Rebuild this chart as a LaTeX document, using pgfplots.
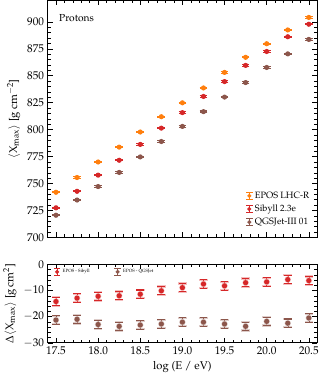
\documentclass[border=0pt]{standalone}
\usepackage[T1]{fontenc}
\usepackage{mathpazo}
\usepackage{pgfplots}
\usepackage{pgfplotstable}
\pgfplotsset{compat=1.18}
\definecolor{eposc}{HTML}{FF7F0E}
\definecolor{sibc}{HTML}{D62728}
\definecolor{qgsc}{HTML}{8C564B}

\pgfplotstableread{
x      epos   sib    qgs   err
17.50  741.9  727.5  720.6 0.6
17.75  755.6  742.8  734.7 0.6
18.00  770.0  757.8  747.2 0.6
18.25  783.8  771.6  760.3 0.6
18.50  797.8  786.3  774.7 0.6
18.75  812.0  801.4  789.0 0.6
19.00  824.9  815.8  803.0 0.6
19.25  838.7  830.8  816.7 0.6
19.50  853.1  844.6  830.2 0.6
19.75  867.1  859.6  843.7 0.6
20.00  879.7  872.5  857.7 0.6
20.25  892.5  886.2  870.3 0.6
20.50  904.1  897.8  883.7 0.6
}\topdata

\pgfplotstableread{
x      dsib   esib  dqgs   eqgs
17.50  -14.2  1.6   -21.3  1.6
17.75  -12.9  1.6   -21.0  1.6
18.00  -12.2  1.6   -23.0  1.6
18.25  -12.0  1.6   -23.7  1.6
18.50  -11.4  1.6   -23.2  1.6
18.75  -10.1  1.6   -22.8  1.6
19.00   -8.9  1.6   -22.1  1.6
19.25   -7.5  1.6   -22.1  1.6
19.50   -8.2  1.6   -22.8  1.6
19.75   -7.0  1.6   -23.7  1.6
20.00   -6.7  1.6   -21.8  1.6
20.25   -5.8  1.6   -22.5  1.6
20.50   -6.2  1.6   -20.5  1.6
}\diffdata

\pgfplotsset{
  errlegend/.style={legend image code/.code={
    \draw[line width=0.8pt] (0.3cm,-0.13cm) -- (0.3cm,0.13cm);
    \draw[line width=0.8pt] (0.19cm,-0.13cm) -- (0.41cm,-0.13cm);
    \draw[line width=0.8pt] (0.19cm,0.13cm) -- (0.41cm,0.13cm);
    \fill (0.3cm,0) circle (1.8pt);}},
  myaxis/.style={
    scale only axis, width=265pt,
    xmin=17.4, xmax=20.6,
    xtick={17.5,18.0,...,20.5},
    minor x tick num=4,
    tick align=inside,
    major tick length=5pt, minor tick length=3pt,
    xtick pos=both, ytick pos=both,
    every tick/.style={black, line width=0.5pt},
    axis line style={line width=0.6pt},
    tick label style={font=\fontsize{11}{13}\selectfont},
    label style={font=\fontsize{11}{13}\selectfont},
  },
  datplot/.style={only marks, mark=*, mark size=2pt, line width=1pt,
    error bars/y dir=both, error bars/y explicit,
    error bars/error mark options={rotate=90, mark size=3.8pt, line width=1pt}},
  lightplot/.style={only marks, mark=none, line width=2.2pt,
    error bars/y dir=both, error bars/y explicit,
    error bars/error bar style={line width=2.2pt, color=#1},
    error bars/error mark options={rotate=90, mark size=4.2pt, line width=2.2pt, color=#1}},
}

\begin{document}
\begin{tikzpicture}
\begin{axis}[myaxis, name=top,
  height=233pt,
  ymin=700, ymax=920,
  ytick={700,725,...,900},
  minor y tick num=4,
  xticklabels={},
  ylabel={$\langle \mathrm{X_{max}}\rangle$ [g\,cm$^{-2}$]},
  legend style={draw=none, fill=none, at={(0.99,0.03)}, anchor=south east, font=\small,
    row sep=1pt, cells={anchor=west}},
  legend cell align=left,
]
\addplot[datplot, color=eposc, forget plot] table[x=x, y=epos, y error=err]{\topdata};
\addplot[datplot, color=sibc, forget plot] table[x=x, y=sib, y error=err]{\topdata};
\addplot[datplot, color=qgsc, forget plot] table[x=x, y=qgs, y error=err]{\topdata};
\addlegendimage{eposc, errlegend}
\addlegendentry{EPOS LHC-R}
\addlegendimage{sibc, errlegend}
\addlegendentry{Sibyll 2.3e}
\addlegendimage{qgsc, errlegend}
\addlegendentry{QGSJet-III 01}
\node[anchor=west, font=\normalsize] at (rel axis cs:0.03,0.925) {Protons};
\end{axis}

\begin{axis}[myaxis,
  at={(top.south west)}, anchor=north west, yshift=-26.5pt,
  height=77pt,
  ymin=-30, ymax=0,
  ytick={-30,-20,-10,0},
  minor y tick num=4,
  xticklabel style={/pgf/number format/.cd, fixed, fixed zerofill, precision=1},
  xlabel={log (E / eV)},
  ylabel={$\Delta\langle \mathrm{X_{max}}\rangle$ [g\,cm$^{2}$]},
  legend style={draw=none, fill=none, at={(0.01,0.99)}, anchor=north west, font=\fontsize{4.5}{5.5}\selectfont,
    legend columns=2, /tikz/every even column/.append style={column sep=22pt}},
  legend cell align=left,
]
\addplot[lightplot=sibc!30, color=sibc!30, forget plot] table[x=x, y=dsib, y error=esib]{\diffdata};
\addplot[lightplot=qgsc!30, color=qgsc!30, forget plot] table[x=x, y=dqgs, y error=eqgs]{\diffdata};
\addplot[datplot, color=sibc, forget plot] table[x=x, y=dsib, y error=esib]{\diffdata};
\addplot[datplot, color=qgsc, forget plot] table[x=x, y=dqgs, y error=eqgs]{\diffdata};
\addlegendimage{sibc, errlegend}
\addlegendentry{EPOS - Sibyll}
\addlegendimage{qgsc, errlegend}
\addlegendentry{EPOS - QGSJet}
\end{axis}
\end{tikzpicture}
\end{document}
